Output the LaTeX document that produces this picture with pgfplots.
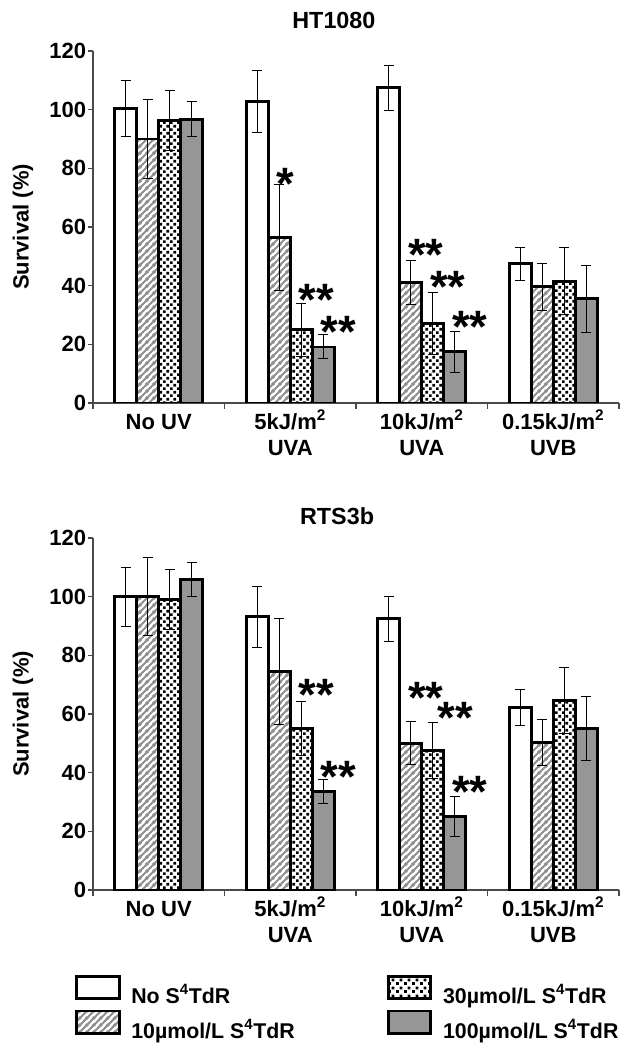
\documentclass[border=0pt]{standalone}
\usepackage{fontspec}
\setmainfont{Liberation Sans}
\usepackage{pgfplots}
\pgfplotsset{compat=1.18}
\usepackage{pgfplotstable}
\usetikzlibrary{patterns.meta}

\definecolor{barGray}{HTML}{969696}
\definecolor{hatchGray}{HTML}{8E8E8E}
\definecolor{axisGray}{HTML}{4A4A4A}

% diagonal hatch (10 umol/L) and square dots (30 umol/L)
\pgfdeclarepattern{
  name=hatchNE, type=uncolored,
  bottom left={\pgfpointorigin}, top right={\pgfpoint{5pt}{5pt}},
  tile size={\pgfpoint{5pt}{5pt}},
  code={
    \pgfsetlinewidth{1.6pt}
    \pgfpathmoveto{\pgfpoint{-1pt}{-1pt}}\pgfpathlineto{\pgfpoint{6pt}{6pt}}
    \pgfpathmoveto{\pgfpoint{-1pt}{4pt}}\pgfpathlineto{\pgfpoint{1pt}{6pt}}
    \pgfpathmoveto{\pgfpoint{4pt}{-1pt}}\pgfpathlineto{\pgfpoint{6pt}{1pt}}
    \pgfusepath{stroke}
  }
}
\pgfdeclarepattern{
  name=squareDots, type=uncolored,
  bottom left={\pgfpointorigin}, top right={\pgfpoint{5.6pt}{5.6pt}},
  tile size={\pgfpoint{5.6pt}{5.6pt}},
  code={
    \pgfpathrectangle{\pgfpointorigin}{\pgfpoint{2.2pt}{2.2pt}}
    \pgfpathrectangle{\pgfpoint{2.8pt}{2.8pt}}{\pgfpoint{2.2pt}{2.2pt}}
    \pgfusepath{fill}
  }
}

% x: category, then mean and error for: none, 10, 30, 100 umol/L
\pgfplotstableread{
x  w     we    h     he    d     de    g     ge
0  100.5 9.5   90    13.4  96.3  10.3  96.8  6
1  102.8 10.5  56.4  18    25    9     19.1  4.1
2  107.4 7.8   41    7.5   27    10.5  17.5  7
3  47.4  5.6   39.6  8     41.5  11.4  35.5  11.3
}\topdata
\pgfplotstableread{
x  w     we    h     he    d     de    g     ge
0  100   10    100   13.3  99    10.2  105.8 5.8
1  93.2  10.4  74.5  18    55    9.3   33.6  4
2  92.4  7.8   50    7.3   47.5  9.5   25.2  6.8
3  62.3  6.2   50.4  7.8   64.7  11.2  55    11
}\botdata
\pgfplotstableread{
x       y     s
0.8935  78    *
1.0609  38.3  **
1.2282  27.7  **
1.8935  53.7  **
2.0609  43    **
2.2282  29.4  **
}\topstars
\pgfplotstableread{
x       y     s
1.0609  69.7  **
1.2282  42    **
1.8935  68.7  **
2.1198  62    **
2.2282  36.9  **
}\botstars

\pgfplotsset{
  survival/.style={
    scale only axis, width=394.5pt, height=264pt,
    xmin=-0.5, xmax=3.5, ymin=0, ymax=120,
    axis x line*=bottom, axis y line*=left,
    axis line style={-, line width=0.9pt, axisGray},
    ytick={0,20,...,120},
    xtick={0,1,2,3},
    xticklabels={{\vphantom{5kJ/m\textsuperscript{2}}No UV},
      {5kJ/m\textsuperscript{2}\\UVA},
      {10kJ/m\textsuperscript{2}\\UVA},
      {0.15kJ/m\textsuperscript{2}\\UVB}},
    major x tick style={draw=none},
    minor xtick={-0.5,0.5,1.5,2.5,3.5},
    minor x tick style={line width=0.8pt, axisGray},
    y tick style={line width=0.8pt, axisGray},
    tick align=outside,
    major tick length=3.5pt, minor tick length=4.5pt,
    /pgf/number format/assume math mode=true,
    ticklabel style={font=\fontsize{16.5}{19.5}\selectfont\bfseries},
    xticklabel style={align=center, inner sep=1.5pt},
    yticklabel style={inner sep=1.5pt},
    ylabel={Survival (\%)},
    ylabel style={at={(axis description cs:-0.1331,0.5)}, anchor=center,
      font=\fontsize{16.5}{20}\selectfont\bfseries},
    legend image code/.code={\draw[#1, line width=2.2pt] (0pt,-3pt) rectangle (32pt,14pt);},
  },
  barbase/.style={ybar, bar width=16.5pt, draw=black, line width=2.2pt},
  errbar/.style={draw=none, mark=none, forget plot,
    error bars/y dir=both, error bars/y explicit,
    error bars/error bar style={draw=black, line width=0.75pt},
    error bars/error mark options={rotate=90, mark size=3.8pt, draw=black, line width=0.75pt}},
  stars/.style={draw=none, mark=none, forget plot, nodes near coords,
    point meta=explicit symbolic,
    nodes near coords style={anchor=base west, inner sep=0pt, yshift=-19pt,
      font=\fontsize{34}{34}\selectfont\bfseries}},
}

\begin{document}
\begin{tikzpicture}
\path[use as bounding box] (-69.75pt,-481.5pt) rectangle (405pt,302.25pt);

\begin{axis}[survival, at={(0pt,0pt)}, anchor=south west,
    title={HT1080},
    title style={at={(axis description cs:0.458,1)}, anchor=south, inner sep=0pt,
      yshift=10.5pt, font=\fontsize{17.5}{20}\selectfont\bfseries}]
  \addplot[barbase, bar shift=-24.75pt, fill=white] table[x=x, y=w]{\topdata};
  \addplot[barbase, bar shift=-8.25pt, pattern=hatchNE, pattern color=hatchGray] table[x=x, y=h]{\topdata};
  \addplot[barbase, bar shift=8.25pt, pattern=squareDots, pattern color=black] table[x=x, y=d]{\topdata};
  \addplot[barbase, bar shift=24.75pt, fill=barGray] table[x=x, y=g]{\topdata};
  \addplot[errbar] table[x expr=\thisrow{x}-0.251, y=w, y error=we]{\topdata};
  \addplot[errbar] table[x expr=\thisrow{x}-0.0837, y=h, y error=he]{\topdata};
  \addplot[errbar] table[x expr=\thisrow{x}+0.0837, y=d, y error=de]{\topdata};
  \addplot[errbar] table[x expr=\thisrow{x}+0.251, y=g, y error=ge]{\topdata};
  \addplot[stars] table[x=x, y=y, meta=s]{\topstars};
\end{axis}

\begin{axis}[survival, at={(0pt,-365.25pt)}, anchor=south west,
    title={RTS3b},
    title style={at={(axis description cs:0.464,1)}, anchor=south, inner sep=0pt,
      yshift=3.75pt, font=\fontsize{17.5}{20}\selectfont\bfseries},
    legend columns=2, transpose legend, legend cell align=left,
    legend style={at={(axis description cs:-0.0342,-0.2408)}, anchor=north west,
      draw=none, inner sep=0pt, outer sep=0pt, row sep=3.25pt,
      font=\fontsize{16}{18}\selectfont\bfseries,
      nodes={inner sep=0pt},
      /tikz/column 1/.style={column sep=8pt},
      /tikz/column 2/.style={column sep=69pt},
      /tikz/column 3/.style={column sep=8pt}}]
  \addplot[barbase, bar shift=-24.75pt, fill=white] table[x=x, y=w]{\botdata};
  \addlegendentry{No S\textsuperscript{4}TdR}
  \addplot[barbase, bar shift=-8.25pt, pattern=hatchNE, pattern color=hatchGray] table[x=x, y=h]{\botdata};
  \addlegendentry{10µmol/L S\textsuperscript{4}TdR}
  \addplot[barbase, bar shift=8.25pt, pattern=squareDots, pattern color=black] table[x=x, y=d]{\botdata};
  \addlegendentry{30µmol/L S\textsuperscript{4}TdR}
  \addplot[barbase, bar shift=24.75pt, fill=barGray] table[x=x, y=g]{\botdata};
  \addlegendentry{100µmol/L S\textsuperscript{4}TdR}
  \addplot[errbar] table[x expr=\thisrow{x}-0.251, y=w, y error=we]{\botdata};
  \addplot[errbar] table[x expr=\thisrow{x}-0.0837, y=h, y error=he]{\botdata};
  \addplot[errbar] table[x expr=\thisrow{x}+0.0837, y=d, y error=de]{\botdata};
  \addplot[errbar] table[x expr=\thisrow{x}+0.251, y=g, y error=ge]{\botdata};
  \addplot[stars] table[x=x, y=y, meta=s]{\botstars};
\end{axis}
\end{tikzpicture}
\end{document}
